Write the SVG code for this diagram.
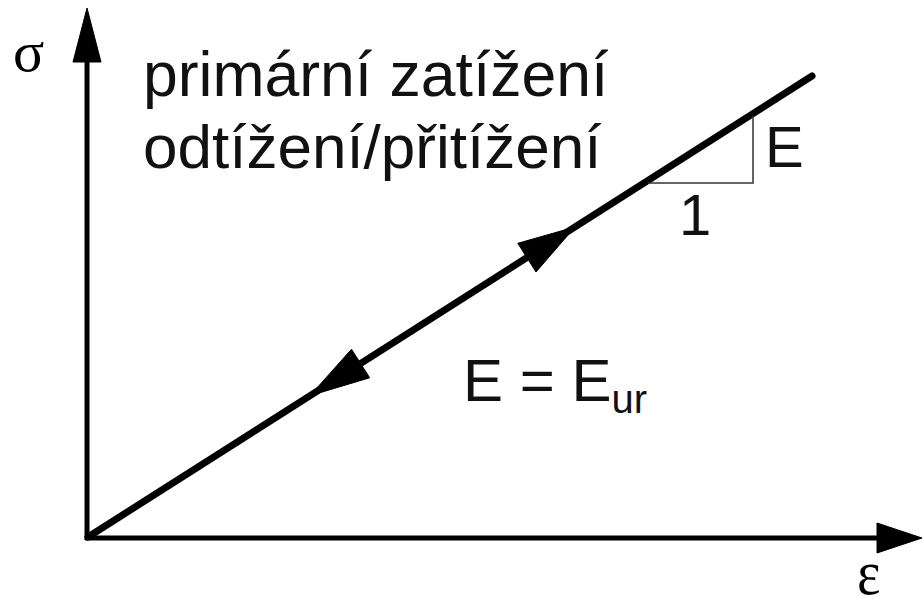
<svg xmlns="http://www.w3.org/2000/svg" width="924" height="603" viewBox="0 0 924 603">
  <style>
    .ax { stroke: #000; stroke-width: 5; fill: none; }
    .ln { stroke: #000; stroke-width: 7; fill: none; stroke-linecap: round; }
    .thin { stroke: #333; stroke-width: 1.5; fill: none; }
    .head { fill: #000; stroke: #000; stroke-width: 1; stroke-linejoin: miter; }
    .sans { font-family: "Liberation Sans", Arial, sans-serif; fill: #111; }
    .serif { font-family: "Liberation Serif", "Times New Roman", serif; fill: #000; }
  </style>
  <rect x="0" y="0" width="924" height="603" fill="#fff"/>
  <g id="connectors">
    <g id="axis-sigma">
      <line class="ax" x1="87" y1="540" x2="87" y2="55"/>
      <polygon class="head" points="87,8 101,62 73,62"/>
    </g>
    <g id="axis-epsilon">
      <line class="ax" x1="85" y1="538" x2="882" y2="538"/>
      <polygon class="head" points="922,538 877,553 877,523"/>
    </g>
    <g id="loading-line">
      <line class="ln" x1="88" y1="537" x2="812" y2="76"/>
      <polygon class="head" points="575,227 536,272 517.8,243.3"/>
      <polygon class="head" points="310,395.7 369.7,377.8 351.5,349.2"/>
    </g>
    <g id="slope-triangle">
      <polyline class="thin" points="648,183 753,183 753,116"/>
    </g>
  </g>
  <g id="labels">
    <text id="sigma" class="serif" x="13" y="71" font-size="58">σ</text>
    <text id="epsilon" class="serif" font-size="56" transform="translate(857,594) scale(1,1.15)" x="0" y="0">ε</text>
    <text id="legend1" class="sans" x="143" y="96" font-size="62.5">primární zatížení</text>
    <text id="legend2" class="sans" x="143" y="168" font-size="62">odtížení/přitížení</text>
    <text id="slope-E" class="sans" x="765" y="167" font-size="58">E</text>
    <text id="slope-1" class="sans" x="679" y="235" font-size="58">1</text>
    <text id="eq" class="sans" x="463" y="401" font-size="60">E = E<tspan font-size="40" y="413">ur</tspan></text>
  </g>
</svg>
